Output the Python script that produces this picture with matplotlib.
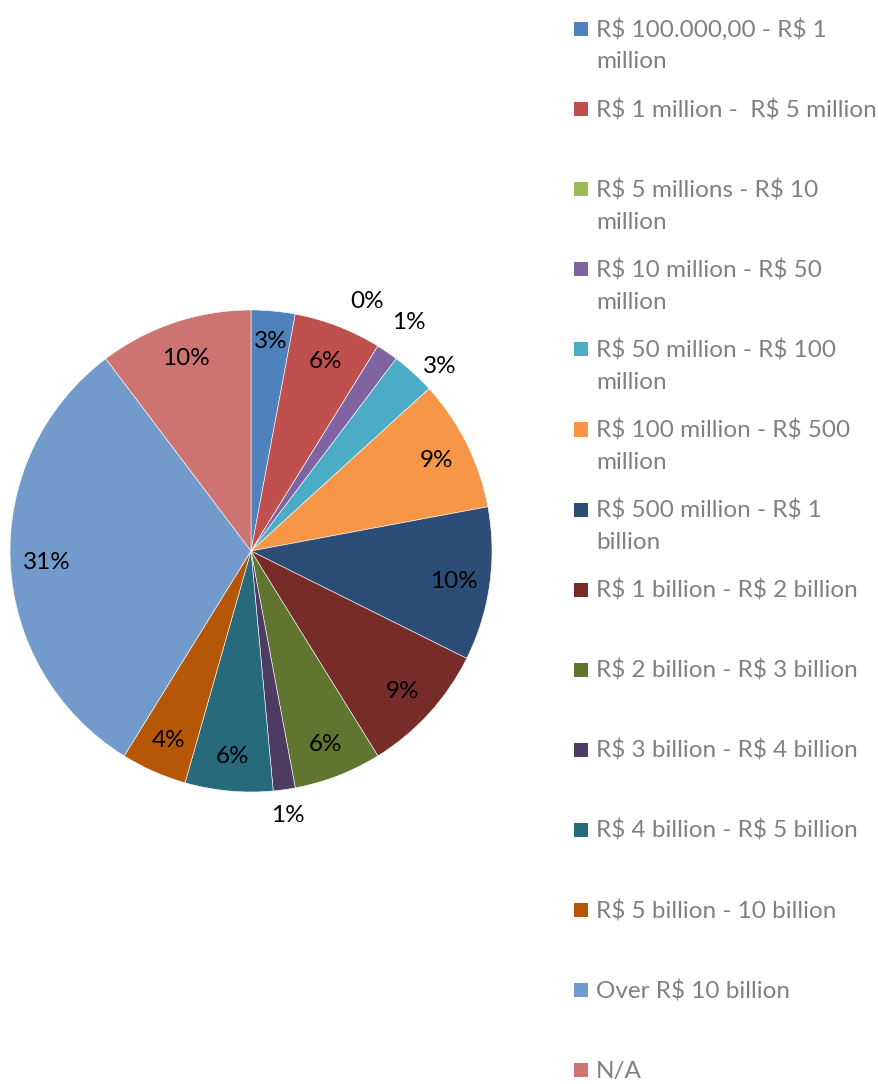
import numpy as np
import matplotlib
matplotlib.use("Agg")
import matplotlib.pyplot as plt
from matplotlib.patches import Rectangle

# Respondents per revenue bracket
categories = [
    "R$ 100.000,00 - R$ 1\nmillion",
    "R$ 1 million -  R$ 5 million",
    "R$ 5 millions - R$ 10\nmillion",
    "R$ 10 million - R$ 50\nmillion",
    "R$ 50 million - R$ 100\nmillion",
    "R$ 100 million - R$ 500\nmillion",
    "R$ 500 million - R$ 1\nbillion",
    "R$ 1 billion - R$ 2 billion",
    "R$ 2 billion - R$ 3 billion",
    "R$ 3 billion - R$ 4 billion",
    "R$ 4 billion - R$ 5 billion",
    "R$ 5 billion - 10 billion",
    "Over R$ 10 billion",
    "N/A",
]
counts = [2, 4, 0, 1, 2, 6, 7, 6, 4, 1, 4, 3, 21, 7]
colors = ["#4F81BD", "#C0504D", "#9BBB59", "#8064A2", "#4BACC6", "#F79646",
          "#2C4D75", "#772C2A", "#5F7530", "#4D3B62", "#276A7C", "#B65708",
          "#729ACA", "#CD7371"]

# label placement: radial factor (relative to radius) and angular nudge (deg)
label_radius = [0.88, 0.85, 1.15, 1.16, 1.10, 0.86, 0.85, 0.85, 0.85, 1.10, 0.85, 0.85, 0.85, 0.85]
label_nudge = [0, 0, 7, 0, -3, 0, 0, 0, 0, 0, 0, 0, 0, 0]

W, H = 879, 1084
fig = plt.figure(figsize=(W / 100, H / 100), dpi=100)
ax = fig.add_axes([0, 0, 1, 1])

cx, cy, R = 251, H - 551, 241
wedges, _ = ax.pie(counts, colors=colors, startangle=90, counterclock=False,
                   center=(cx, cy), radius=R,
                   wedgeprops=dict(edgecolor="white", linewidth=0.4))
ax.set_xlim(0, W)
ax.set_ylim(0, H)
ax.set_aspect("equal")
ax.axis("off")

FONT = "Lato"
FS = 17.5
total = sum(counts)
for w, n, rf, nd in zip(wedges, counts, label_radius, label_nudge):
    mid = np.deg2rad((w.theta1 + w.theta2) / 2 + nd)
    pct = 100.0 * n / total
    ax.text(cx + rf * R * np.cos(mid), cy + rf * R * np.sin(mid) - 2,
            f"{pct:.0f}%", ha="center", va="center",
            fontsize=FS, family=FONT, color="black")

# legend drawn as a column of swatches and labels
y0, step = 29, 80.1
for i, (lab, col) in enumerate(zip(categories, colors)):
    y = y0 + i * step
    fig.patches.append(Rectangle((574 / W, 1 - (y + 7) / H), 14 / W, 14 / H,
                                 transform=fig.transFigure, facecolor=col,
                                 edgecolor="none"))
    for j, ln in enumerate(lab.split("\n")):
        fig.text(596 / W, 1 - (y + 1 + j * 32) / H, ln, ha="left", va="center",
                 fontsize=FS, family=FONT, color="#808080", parse_math=False)

fig.savefig("out.png", dpi=100)
